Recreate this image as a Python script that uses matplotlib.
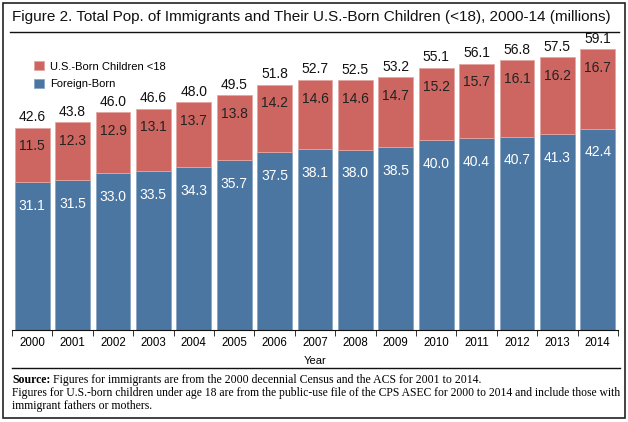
import numpy as np
import matplotlib
matplotlib.use("Agg")
import matplotlib.pyplot as plt
from matplotlib.patches import Rectangle
from matplotlib.lines import Line2D

plt.rcParams['font.family'] = ['Liberation Sans', 'DejaVu Sans']

# datos
years = ['2000', '2001', '2002', '2003', '2004', '2005', '2006', '2007',
         '2008', '2009', '2010', '2011', '2012', '2013', '2014']
foreign_born = [31.1, 31.5, 33.0, 33.5, 34.3, 35.7, 37.5, 38.1,
                38.0, 38.5, 40.0, 40.4, 40.7, 41.3, 42.4]
us_born_children = [11.5, 12.3, 12.9, 13.1, 13.7, 13.8, 14.2, 14.6,
                    14.6, 14.7, 15.2, 15.7, 16.1, 16.2, 16.7]
totals = [42.6, 43.8, 46.0, 46.6, 48.0, 49.5, 51.8, 52.7,
          52.5, 53.2, 55.1, 56.1, 56.8, 57.5, 59.1]

blue = '#4b76a1'
red = '#cd6660'

fig = plt.figure(figsize=(6.28, 4.22), dpi=100)
W, H = 628, 422
renderer = fig.canvas.get_renderer()


def fit_text(t, width_px):
    # achica la fuente hasta que el texto quepa en width_px
    for _ in range(3):
        w = t.get_window_extent(renderer).width
        t.set_fontsize(t.get_fontsize() * width_px / w)


# marco exterior
fig.patches.append(Rectangle((3 / W, 4 / H), 622 / W, 415 / H, transform=fig.transFigure,
                             fill=False, edgecolor='#222222', linewidth=1.2))
# titulo y lineas
title = fig.text(12 / W, 1 - 17 / H,
                 'Figure 2. Total Pop. of Immigrants and Their U.S.-Born Children (<18), 2000-14 (millions)',
                 fontsize=11, va='center', ha='left', color='#111111')
fit_text(title, 603)
fig.lines.append(Line2D([10 / W, 619 / W], [1 - 32 / H, 1 - 32 / H], transform=fig.transFigure,
                        color='#111111', linewidth=1.0))
fig.lines.append(Line2D([12 / W, 620 / W], [1 - 368 / H, 1 - 368 / H], transform=fig.transFigure,
                        color='#111111', linewidth=1.0))

ax = fig.add_axes([12 / W, (H - 330) / H, 606 / W, 292 / H])
x = np.arange(len(years))
ax.bar(x, foreign_born, width=0.86, color=blue, edgecolor='#8aa6c4', linewidth=0.6,
       label='Foreign-Born')
ax.bar(x, us_born_children, bottom=foreign_born, width=0.86, color=red,
       edgecolor='#e4a7a2', linewidth=0.6, label='U.S.-Born Children <18')

for i in range(len(years)):
    ax.annotate(f'{foreign_born[i]:.1f}', (x[i], foreign_born[i]), xytext=(0, -17),
                textcoords='offset points', ha='center', va='center', color='white', fontsize=10)
    top = foreign_born[i] + us_born_children[i]
    ax.annotate(f'{us_born_children[i]:.1f}', (x[i], top), xytext=(0, -13.5),
                textcoords='offset points', ha='center', va='center', color='#222222', fontsize=10)
    ax.annotate(f'{totals[i]:.1f}', (x[i], top), xytext=(0, 7.5),
                textcoords='offset points', ha='center', va='center', color='#111111', fontsize=10)

ax.set_xlim(-0.5, len(years) - 0.5)
ax.set_ylim(0, 61.5)
for s in ['top', 'left', 'right']:
    ax.spines[s].set_visible(False)
ax.spines['bottom'].set_color('#111111')
ax.set_yticks([])
ax.set_xticks(x)
ax.set_xticklabels(years, fontsize=8.3)
ax.set_xticks(np.arange(-0.5, len(years)), minor=True)
ax.tick_params(axis='x', which='major', length=0, pad=5)
ax.tick_params(axis='x', which='minor', length=4, color='#111111')
ax.set_xlabel('Year', fontsize=8, labelpad=5)

handles, labels = ax.get_legend_handles_labels()
ax.legend(handles[::-1], labels[::-1], loc='upper left', bbox_to_anchor=(0.02, 0.955),
          frameon=False, fontsize=8, handlelength=0.9, handleheight=0.9,
          handletextpad=0.5, labelspacing=0.65)

# fuente
serif = ['Liberation Serif', 'DejaVu Serif']
src_bold = fig.text(12 / W, 1 - 380 / H, 'Source:', fontsize=8.5, va='center', ha='left',
                    family=serif, weight='bold')
bw = src_bold.get_window_extent(renderer).width
fig.text((12 + bw + 3) / W, 1 - 380 / H,
         'Figures for immigrants are from the 2000 decennial Census and the ACS for 2001 to 2014.',
         fontsize=8.5, va='center', ha='left', family=serif)
line2 = fig.text(12 / W, 1 - 393 / H,
                 'Figures for U.S.-born children under age 18 are from the public-use file of the CPS ASEC for 2000 to 2014 and include those with',
                 fontsize=8.5, va='center', ha='left', family=serif)
fit_text(line2, 607)
fig.text(12 / W, 1 - 406 / H, 'immigrant fathers or mothers.',
         fontsize=8.5, va='center', ha='left', family=serif)

fig.savefig('out.png', dpi=100)
